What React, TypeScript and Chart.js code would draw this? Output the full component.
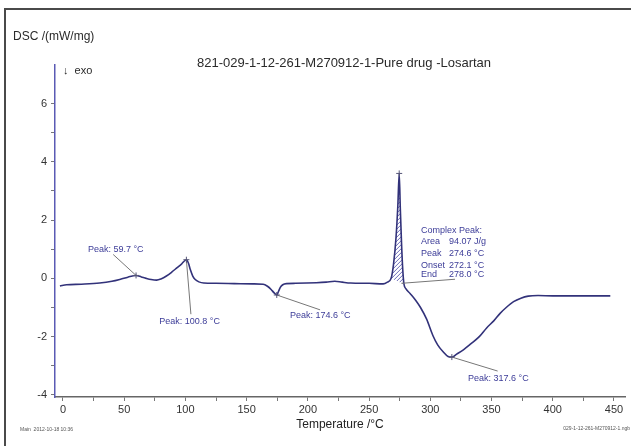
import React, { useEffect, useRef } from "react";
import { Chart, registerables } from "chart.js";
Chart.register(...registerables);

// ---- data ----
const temperature = [-2.5, 3, 15, 30, 40, 47, 53, 59.7, 64, 68, 72, 76.5, 80, 84.5, 89, 93, 97, 100.8, 102.5, 104, 106, 108, 111, 115, 125, 140, 155, 163.5, 167, 170, 172.5, 174.6, 176, 177.5, 179.5, 182.5, 190, 207, 215, 222, 228, 235, 250, 261.5, 265, 268, 270, 272, 273.5, 274.6, 275.5, 276.5, 277.5, 278.5, 280, 283.5, 288, 292, 297, 302, 306, 310.5, 314.5, 317.6, 321.5, 327, 333, 340, 346, 352, 357, 362, 368, 374, 380, 388, 400, 420, 440, 447];
const dsc = [-0.26, -0.22, -0.2, -0.16, -0.1, -0.03, 0.04, 0.1, 0.05, 0.0, -0.04, -0.06, -0.02, 0.08, 0.22, 0.36, 0.5, 0.64, 0.52, 0.3, 0.08, -0.04, -0.12, -0.16, -0.17, -0.18, -0.19, -0.2, -0.27, -0.38, -0.5, -0.57, -0.45, -0.31, -0.22, -0.18, -0.17, -0.15, -0.13, -0.1, -0.13, -0.16, -0.17, -0.19, -0.13, 0.0, 0.5, 1.4, 2.5, 3.6, 2.4, 1.2, 0.3, -0.2, -0.35, -0.52, -0.75, -1.0, -1.4, -1.95, -2.28, -2.52, -2.68, -2.7, -2.6, -2.45, -2.25, -2.0, -1.7, -1.45, -1.2, -1.0, -0.8, -0.68, -0.61, -0.59, -0.6, -0.6, -0.6, -0.6];

const xTicks = [0, 25, 50, 75, 100, 125, 150, 175, 200, 225, 250, 275, 300, 325, 350, 375, 400, 425, 450];
const yTicks = [-4, -3, -2, -1, 0, 1, 2, 3, 4, 5, 6];

const peakTemps = [59.7, 100.8, 174.6, 274.6, 317.6];
const peakValues = [0.1, 0.64, -0.57, 3.6, -2.7];
const complexLabels = ["Area", "Peak", "Onset", "End"];
const complexValues = ["94.07 J/g", "274.6 °C", "272.1 °C", "278.0 °C"];
const hatchRange = [266, 279];

const TITLE = "821-029-1-12-261-M270912-1-Pure drug -Losartan";
const Y_TITLE = "DSC /(mW/mg)";
const X_TITLE = "Temperature /°C";
const FOOT_LEFT = "Main  2012-10-18 10:36";
const FOOT_RIGHT = "029-1-12-261-M270912-1.ngb";

const FONT = '"Liberation Sans", Arial, sans-serif';
const ANN = "#3c3c98";
const LEAD = "#777777";

// annotation layout (data coordinates)
const simpleAnnots = [
  { i: 0, text: "Peak: 59.7 °C", tx: 20.4, ty: 0.99, align: "left", lx: 41, ly: 0.82 },
  { i: 1, text: "Peak: 100.8 °C", tx: 103.4, ty: -1.47, align: "center", lx: 104.5, ly: -1.23 },
  { i: 2, text: "Peak: 174.6 °C", tx: 185.4, ty: -1.26, align: "left", lx: 210, ly: -1.08 },
  { i: 4, text: "Peak: 317.6 °C", tx: 330.8, ty: -3.42, align: "left", lx: 355, ly: -3.18 },
];

const overlay = {
  id: "overlay",
  beforeDatasetsDraw(chart: any) {
    const { ctx, scales } = chart;
    const x = scales.x, y = scales.y;
    const pts: number[][] = [];
    temperature.forEach((t, i) => {
      if (t >= hatchRange[0] && t <= hatchRange[1]) pts.push([x.getPixelForValue(t), y.getPixelForValue(dsc[i])]);
    });
    if (pts.length < 3) return;
    ctx.save();
    ctx.beginPath();
    pts.forEach((p, i) => (i ? ctx.lineTo(p[0], p[1]) : ctx.moveTo(p[0], p[1])));
    ctx.closePath();
    ctx.clip();
    ctx.beginPath();
    ctx.strokeStyle = "#5a5ab0";
    ctx.lineWidth = 0.9;
    const x0 = x.getPixelForValue(hatchRange[0]) - 10;
    const x1 = x.getPixelForValue(hatchRange[1]) + 10;
    const yTop = y.getPixelForValue(4.5), yBot = y.getPixelForValue(-1);
    const h = yBot - yTop;
    for (let k = x0 - h; k < x1; k += 4) {
      ctx.moveTo(k, yBot);
      ctx.lineTo(k + h, yTop);
    }
    ctx.stroke();
    ctx.restore();
  },
  afterDraw(chart: any) {
    const { ctx, scales } = chart;
    const x = scales.x, y = scales.y;
    const X = (t: number) => x.getPixelForValue(t);
    const Y = (v: number) => y.getPixelForValue(v);
    ctx.save();

    // frame
    ctx.strokeStyle = "#4a4a4a";
    ctx.lineWidth = 2;
    ctx.beginPath();
    ctx.moveTo(5, 446);
    ctx.lineTo(5, 9);
    ctx.lineTo(631, 9);
    ctx.stroke();

    // leader lines
    ctx.strokeStyle = LEAD;
    ctx.lineWidth = 1;
    simpleAnnots.forEach((a) => {
      ctx.beginPath();
      ctx.moveTo(X(peakTemps[a.i]), Y(peakValues[a.i]));
      ctx.lineTo(X(a.lx), Y(a.ly));
      ctx.stroke();
    });
    // complex peak baseline / underline
    ctx.beginPath();
    ctx.moveTo(X(276.4), Y(-0.17));
    ctx.lineTo(X(320.2), Y(-0.03));
    ctx.stroke();

    // peak markers
    ctx.strokeStyle = "#555577";
    ctx.lineWidth = 1;
    peakTemps.forEach((t, i) => {
      const px = X(t), py = Y(peakValues[i]);
      ctx.beginPath();
      ctx.moveTo(px - 3, py);
      ctx.lineTo(px + 3, py);
      ctx.moveTo(px, py - 3);
      ctx.lineTo(px, py + 3);
      ctx.stroke();
    });

    // annotation texts
    ctx.fillStyle = ANN;
    ctx.font = `9px ${FONT}`;
    ctx.textBaseline = "middle";
    simpleAnnots.forEach((a) => {
      ctx.textAlign = a.align as CanvasTextAlign;
      ctx.fillText(a.text, X(a.tx), Y(a.ty));
    });
    ctx.textAlign = "left";
    ctx.fillText("Complex Peak:", X(292.4), Y(1.64));
    const rows = [1.26, 0.855, 0.444, 0.137];
    complexLabels.forEach((l, i) => {
      ctx.fillText(l, X(292.4), Y(rows[i]));
      ctx.fillText(complexValues[i], X(315.3), Y(rows[i]));
    });

    // titles
    ctx.fillStyle = "#2a2a2a";
    ctx.font = `12px ${FONT}`;
    ctx.textAlign = "left";
    ctx.fillText(Y_TITLE, 13, 37);
    ctx.font = `11px ${FONT}`;
    ctx.fillText("↓  exo", 63, 71);
    ctx.font = `13px ${FONT}`;
    ctx.textAlign = "center";
    ctx.fillText(TITLE, 344, 63);

    // footers
    ctx.font = `5px ${FONT}`;
    ctx.fillStyle = "#555";
    ctx.textAlign = "left";
    ctx.fillText(FOOT_LEFT, 20, 430);
    ctx.textAlign = "right";
    ctx.fillText(FOOT_RIGHT, 630, 429);
    ctx.restore();
  },
};

export default function App() {
  const ref = useRef<HTMLCanvasElement | null>(null);
  useEffect(() => {
    if (!ref.current) return;
    const chart = new Chart(ref.current, {
      type: "line",
      data: {
        datasets: [
          {
            data: temperature.map((t, i) => ({ x: t, y: dsc[i] })),
            borderColor: "#32327a",
            borderWidth: 1.6,
            pointRadius: 0,
            cubicInterpolationMode: "monotone",
            fill: false,
          },
        ],
      },
      options: {
        responsive: false,
        animation: false,
        devicePixelRatio: 1,
        layout: { padding: { top: 65, right: 6, left: 0, bottom: 0 } },
        plugins: { legend: { display: false }, tooltip: { enabled: false }, title: { display: false } },
        scales: {
          x: {
            type: "linear",
            min: -6.5,
            max: 459,
            afterBuildTicks: (s: any) => {
              s.ticks = xTicks.map((v) => ({ value: v }));
            },
            afterFit: (s: any) => {
              s.height = 49;
            },
            ticks: {
              autoSkip: false,
              maxRotation: 0,
              padding: 2,
              color: "#333",
              font: { family: FONT, size: 11 },
              callback: (v: any) => (Number(v) % 50 === 0 ? String(v) : ""),
            },
            grid: { drawOnChartArea: false, drawTicks: true, tickLength: 4, color: "#777" },
            border: { color: "#666", width: 1.5 },
            title: {
              display: true,
              text: X_TITLE,
              color: "#222",
              font: { family: FONT, size: 12 },
              padding: { top: 0, bottom: 14 },
            },
          },
          y: {
            type: "linear",
            min: -4.07,
            max: 7.32,
            afterBuildTicks: (s: any) => {
              s.ticks = yTicks.map((v) => ({ value: v }));
            },
            afterFit: (s: any) => {
              s.width = 55;
            },
            ticks: {
              autoSkip: false,
              padding: 4,
              color: "#333",
              font: { family: FONT, size: 11 },
              callback: (v: any) => (Number(v) % 2 === 0 ? String(v) : ""),
            },
            grid: { drawOnChartArea: false, drawTicks: true, tickLength: 4, color: "#777" },
            border: { color: "#5a5ab4", width: 1.5 },
          },
        },
      } as any,
      plugins: [overlay],
    });
    return () => chart.destroy();
  }, []);
  return (
    <div style={{ position: "absolute", left: 0, top: 0, width: 631, height: 446, background: "#fff" }}>
      <canvas ref={ref} width={631} height={446} style={{ display: "block" }} />
    </div>
  );
}
